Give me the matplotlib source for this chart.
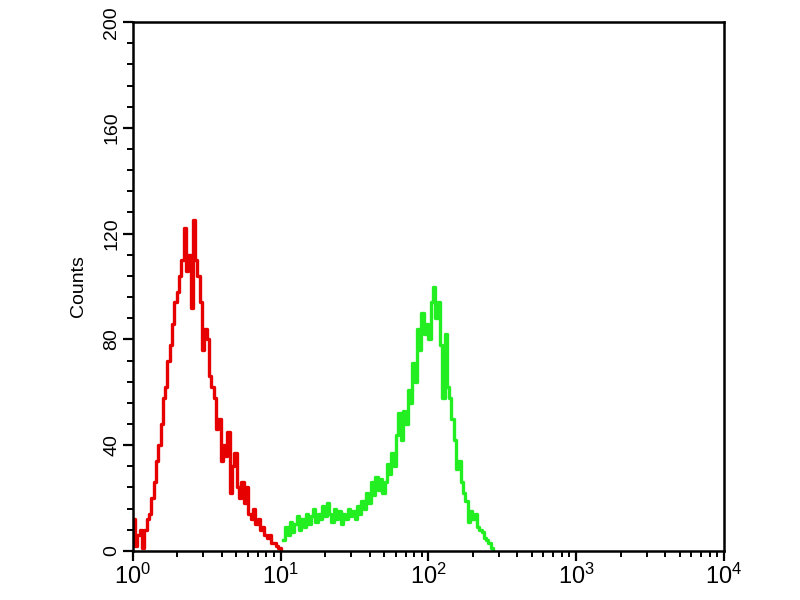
import numpy as np
import matplotlib
matplotlib.use("Agg")
import matplotlib.pyplot as plt
from matplotlib.ticker import MultipleLocator, LogLocator, FixedLocator

# channel data: 64 channels per decade, channel 0 = 10^0
red_start = 0
red_counts = [12, 2, 6, 8, 1, 8, 12, 14, 20, 26, 34, 40, 48, 58, 62, 72,
              78, 86, 94, 98, 104, 110, 122, 106, 112, 92, 125, 110, 104, 94, 76, 84,
              80, 66, 62, 58, 46, 50, 34, 40, 36, 45, 22, 32, 37, 24, 20, 26,
              18, 24, 14, 12, 16, 10, 12, 8, 9, 6, 5, 6, 3, 3, 2, 1, 0]

green_start = 65
green_counts = [4, 9, 6, 11, 7, 10, 13, 8, 12, 9, 14, 10, 13, 16, 11, 14,
                12, 17, 13, 18, 14, 11, 16, 12, 15, 10, 14, 12, 16, 13, 15, 12,
                17, 14, 19, 16, 22, 18, 26, 21, 28, 23, 27, 22, 26, 33, 29, 37,
                32, 44, 52, 42, 53, 48, 61, 56, 71, 64, 84, 76, 90, 82, 86, 80,
                94, 100, 88, 94, 78, 58, 82, 62, 58, 50, 42, 31, 34, 26, 22, 19,
                11, 15, 12, 14, 9, 8, 7, 5, 4, 3, 1, 0]

y_ticks = [0, 40, 80, 120, 160, 200]
x_ticks = [1, 10, 100, 1000, 10000]
x_labels = [r'$10^{0}$', r'$10^{1}$', r'$10^{2}$', r'$10^{3}$', r'$10^{4}$']

plt.rcParams['font.family'] = ['Liberation Sans', 'DejaVu Sans']
plt.rcParams['mathtext.default'] = 'regular'

fig = plt.figure(figsize=(8, 6), dpi=100)
ax = fig.add_axes([0.166, 0.082, 0.739, 0.881])

def channel_x(start, n):
    return 10 ** ((start + np.arange(n)) / 64.0)

ax.step(channel_x(red_start, len(red_counts)), red_counts, where='post',
        color='#e60000', linewidth=2.4)
ax.step(channel_x(green_start, len(green_counts)), green_counts, where='post',
        color='#22ee22', linewidth=2.4)

ax.set_xscale('log')
ax.set_xlim(1, 10000)
ax.set_ylim(0, 200)

ax.set_yticks(y_ticks)
ax.set_yticklabels([str(v) for v in y_ticks], rotation=90, va='center', fontsize=14)
ax.yaxis.set_minor_locator(MultipleLocator(8))

ax.xaxis.set_major_locator(FixedLocator(x_ticks))
ax.set_xticklabels(x_labels, fontsize=17)
ax.xaxis.set_minor_locator(LogLocator(base=10, subs=np.arange(2, 10), numticks=20))

ax.tick_params(which='major', direction='out', length=7, width=1.6, pad=2)
ax.tick_params(which='minor', direction='out', length=4, width=1.4)
for s in ax.spines.values():
    s.set_linewidth(1.8)

ax.set_ylabel('Counts', fontsize=14, labelpad=12)

fig.savefig('out.png', dpi=100)
